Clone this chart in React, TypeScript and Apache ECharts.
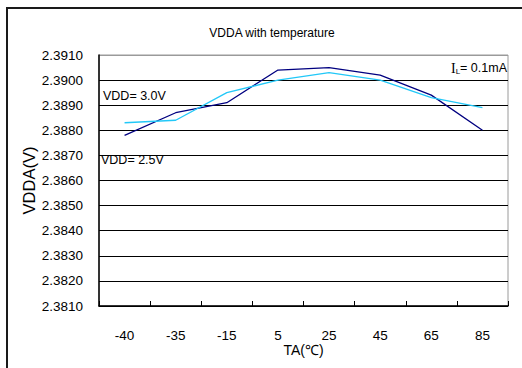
import React, { useEffect, useRef } from "react";
import * as echarts from "echarts";

const categories = ["-40", "-35", "-15", "5", "25", "45", "65", "85"];
const vdd25 = [2.3878, 2.3887, 2.3891, 2.3904, 2.3905, 2.3902, 2.3894, 2.388];
const vdd30 = [2.3883, 2.3884, 2.3895, 2.39, 2.3903, 2.39, 2.3893, 2.3889];
const yMin = 2.381;
const yMax = 2.391;
const yStep = 0.001;

const SANS = '"Liberation Sans", Arial, sans-serif';

export default function App() {
  const ref = useRef<HTMLDivElement>(null);
  useEffect(() => {
    if (!ref.current) return;
    const chart = echarts.init(ref.current, null, { renderer: "svg" });
    const splitColors: string[] = [];
    for (let i = 0; i < 10; i++) splitColors.push("#000000");
    splitColors.push("#9a9a9a");
    chart.setOption({
      animation: false,
      backgroundColor: "#ffffff",
      title: {
        text: "VDDA with temperature",
        left: 267,
        top: 22,
        textAlign: "center",
        textStyle: { fontFamily: SANS, fontSize: 12, fontWeight: "normal", color: "#000" },
      },
      grid: {
        left: 99,
        right: 14,
        top: 55,
        bottom: 62,
        show: true,
        borderColor: "#9a9a9a",
        borderWidth: 1,
        backgroundColor: "transparent",
      },
      xAxis: {
        type: "category",
        data: categories,
        boundaryGap: true,
        name: "TA(℃)",
        nameLocation: "middle",
        nameGap: 37,
        nameMoveOverlap: false,
        nameTextStyle: { fontFamily: SANS, fontSize: 14, color: "#000" },
        axisLine: { show: true, lineStyle: { color: "#000", width: 1.5 } },
        axisTick: { show: true, inside: true, length: 5, alignWithLabel: false, lineStyle: { color: "#000" } },
        axisLabel: { fontFamily: SANS, fontSize: 13.5, color: "#000", margin: 22 },
        splitLine: { show: false },
      },
      yAxis: {
        type: "value",
        min: yMin,
        max: yMax,
        interval: yStep,
        name: "VDDA(V)",
        nameLocation: "middle",
        nameRotate: 90,
        nameGap: 62,
        nameMoveOverlap: false,
        nameTextStyle: { fontFamily: SANS, fontSize: 16.5, color: "#000" },
        axisLine: { show: true, lineStyle: { color: "#000", width: 1.5 } },
        axisTick: { show: false },
        axisLabel: {
          fontFamily: SANS,
          fontSize: 13.5,
          color: "#000",
          margin: 16,
          formatter: (v: number) => v.toFixed(4),
        },
        splitLine: { show: true, lineStyle: { color: splitColors, width: 1.2 } },
      },
      series: [
        {
          name: "VDD= 2.5V",
          type: "line",
          data: vdd25,
          showSymbol: false,
          symbol: "none",
          lineStyle: { color: "#000080", width: 1.3 },
          z: 3,
        },
        {
          name: "VDD= 3.0V",
          type: "line",
          data: vdd30,
          showSymbol: false,
          symbol: "none",
          lineStyle: { color: "#22c8f8", width: 1.3 },
          z: 4,
        },
      ],
      graphic: [
        {
          type: "rect",
          shape: { x: 7, y: 8, width: 700, height: 600 },
          style: { fill: "none", stroke: "#1a1a1a", lineWidth: 2 },
          silent: true,
        },
        {
          type: "text",
          x: 103,
          y: 96,
          style: { text: "VDD= 3.0V", fontFamily: SANS, fontSize: 12.5, fill: "#000", verticalAlign: "middle" },
          z: 10,
        },
        {
          type: "text",
          x: 101,
          y: 160,
          style: { text: "VDD= 2.5V", fontFamily: SANS, fontSize: 12.5, fill: "#000", verticalAlign: "middle" },
          z: 10,
        },
        {
          type: "text",
          x: 507,
          y: 68,
          style: {
            text: "{i|I}{l|L}{t|= 0.1mA}",
            align: "right",
            verticalAlign: "middle",
            rich: {
              i: { fontFamily: '"Liberation Serif", serif', fontSize: 14, fill: "#000" },
              l: { fontFamily: SANS, fontSize: 8, fill: "#000", verticalAlign: "bottom", padding: [6, 0, 0, 0] },
              t: { fontFamily: SANS, fontSize: 12.5, fill: "#000" },
            },
          },
          z: 10,
        },
      ],
    });
    return () => chart.dispose();
  }, []);
  return (
    <div
      ref={ref}
      style={{ position: "fixed", left: 0, top: 0, width: 522, height: 368 }}
    />
  );
}
